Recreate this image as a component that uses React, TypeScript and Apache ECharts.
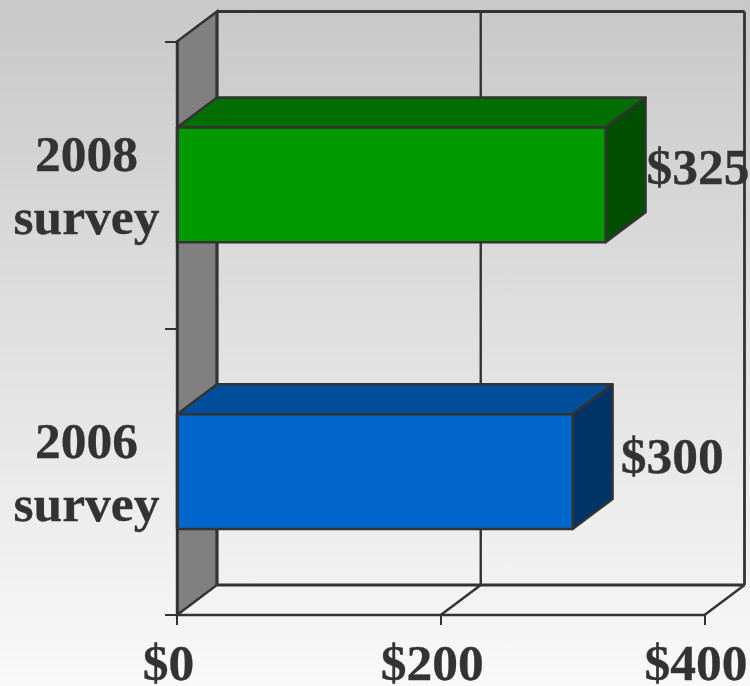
import React, { useEffect, useRef } from "react";
import * as echarts from "echarts";

const categories = ["2006\nsurvey", "2008\nsurvey"];
const surveyValues = [300, 325];
const valueLabels = ["$300", "$325"];
const frontColors = ["#0066cc", "#009900"];
const topColors = ["#004d99", "#006e00"];
const sideColors = ["#003366", "#004d00"];
const axisTicks = [0, 200, 400];

const DX = 40;
const DY = -30;
const INK = "#333333";
const FONT = "bold 51.5px 'Liberation Serif', serif";
const labelGaps = [8, 1];
const labelLifts = [1, 3];
const barShare = 0.4;

export default function App() {
  const ref = useRef<HTMLDivElement>(null);
  useEffect(() => {
    document.body.style.margin = "0";
    const chart = echarts.init(ref.current!, null, { renderer: "svg" });
    const ln = (x1: number, y1: number, x2: number, y2: number, w = 2.8) => ({
      type: "line",
      shape: { x1, y1, x2, y2 },
      style: { stroke: INK, lineWidth: w },
    });
    chart.setOption({
      animation: false,
      backgroundColor: new echarts.graphic.LinearGradient(0, 0, 0, 1, [
        { offset: 0, color: "#c8c8c8" },
        { offset: 1, color: "#f9f9f9" },
      ]),
      grid: { left: 177, top: 41.5, width: 527.5, height: 573.5, outerBoundsMode: "none" },
      xAxis: {
        type: "value",
        min: 0,
        max: 400,
        interval: 200,
        splitLine: { show: false },
        axisLine: { show: true, onZero: false, lineStyle: { color: INK, width: 2.4 } },
        axisTick: { show: true, length: 10, lineStyle: { color: INK, width: 2 } },
        axisLabel: {
          margin: 27,
          padding: [0, 17, 0, 0],
          color: INK,
          fontFamily: "Liberation Serif",
          fontWeight: "bold",
          fontSize: 51.5,
          lineHeight: 40,
          textBorderColor: INK,
          textBorderWidth: 0.3,
          formatter: (v: number) => "$" + v,
          customValues: axisTicks,
        },
        z: 3,
      },
      yAxis: {
        type: "category",
        data: categories,
        axisLine: { show: true, lineStyle: { color: INK, width: 2.6 } },
        axisTick: { show: true, length: 12, lineStyle: { color: INK, width: 2 } },
        axisLabel: {
          margin: 90.5,
          align: "center",
          padding: [0, 0, 8, 0],
          color: INK,
          fontFamily: "Liberation Serif",
          fontWeight: "bold",
          fontSize: 51.5,
          lineHeight: 63,
          textBorderColor: INK,
          textBorderWidth: 0.3,
        },
        z: 3,
      },
      series: [
        {
          type: "custom",
          silent: true,
          z: 1,
          data: [[0, 0]],
          renderItem: (_p: any, api: any) => {
            const o = api.coord([0, 0]);
            const band = api.size([0, 1])[1];
            const x0 = o[0];
            const yBot = o[1] + band / 2;
            const yTop = yBot - band * categories.length;
            const xEnd = api.coord([axisTicks[axisTicks.length - 1], 0])[0];
            const children: any[] = [
              {
                type: "polygon",
                shape: { points: [[x0, yTop], [x0 + DX, yTop + DY], [x0 + DX, yBot + DY], [x0, yBot]] },
                style: { fill: "#808080", stroke: INK, lineWidth: 2.4 },
              },
              ln(x0 + DX, yTop + DY, xEnd + DX, yTop + DY),
              ln(x0 + DX, yBot + DY, xEnd + DX, yBot + DY, 3),
              ln(xEnd + DX, yTop + DY, xEnd + DX, yBot + DY),
              ln(x0 + DX, yTop + DY, x0 + DX, yBot + DY, 3),
              ln(xEnd, yBot, xEnd + DX, yBot + DY, 2.4),
            ];
            axisTicks.slice(1, -1).forEach((t) => {
              const x = api.coord([t, 0])[0];
              children.push(ln(x, yBot, x + DX, yBot + DY, 2.4));
              children.push(ln(x + DX, yBot + DY, x + DX, yTop + DY, 2.4));
            });
            return { type: "group", children };
          },
        },
        {
          type: "custom",
          silent: true,
          z: 2,
          encode: { x: 0, y: 1 },
          data: surveyValues.map((v, i) => [v, i]),
          renderItem: (p: any, api: any) => {
            const i = p.dataIndex;
            const end = api.coord([api.value(0), i]);
            const x0 = api.coord([0, i])[0];
            const band = api.size([0, 1])[1];
            const h = band * barShare;
            const t = end[1] - h / 2;
            const b = end[1] + h / 2;
            const x1 = end[0];
            const edge = { stroke: INK, lineWidth: 2.4, lineJoin: "round" };
            return {
              type: "group",
              children: [
                {
                  type: "polygon",
                  shape: { points: [[x0, t], [x1, t], [x1 + DX, t + DY], [x0 + DX, t + DY]] },
                  style: { fill: topColors[i], ...edge },
                },
                {
                  type: "polygon",
                  shape: { points: [[x1, t], [x1 + DX, t + DY], [x1 + DX, b + DY], [x1, b]] },
                  style: { fill: sideColors[i], ...edge },
                },
                {
                  type: "rect",
                  shape: { x: x0, y: t, width: x1 - x0, height: h },
                  style: { fill: frontColors[i], ...edge },
                },
                {
                  type: "text",
                  style: {
                    text: valueLabels[i],
                    x: x1 + DX + labelGaps[i],
                    y: end[1] + DY / 2 - labelLifts[i],
                    fill: INK,
                    font: FONT,
                    stroke: INK,
                    lineWidth: 0.3,
                    align: "left",
                    verticalAlign: "middle",
                  },
                },
              ],
            };
          },
        },
      ],
    });
    return () => chart.dispose();
  }, []);
  return <div ref={ref} style={{ position: "fixed", left: 0, top: 0, width: 750, height: 686 }} />;
}
